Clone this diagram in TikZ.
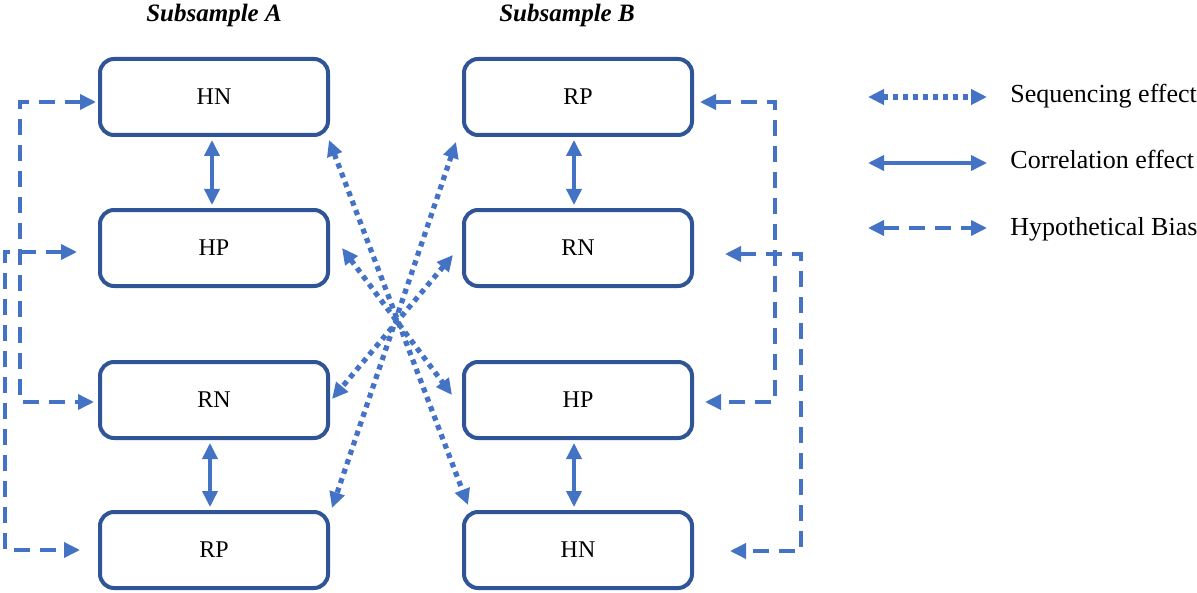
\documentclass[tikz,border=0pt]{standalone}
\usepackage{fontspec}
\setmainfont{Liberation Serif}
\usetikzlibrary{arrows.meta,calc,positioning}
\definecolor{boxblue}{HTML}{2F5597}
\definecolor{arrowblue}{HTML}{4472C4}
\tikzset{
  >={Triangle[length=8pt,width=7.5pt]},
  stage/.style={
    draw=boxblue, line width=2pt, rounded corners=7pt,
    text depth=0pt,
    minimum width=114pt,
    minimum height=38pt,
    font=\fontsize{12}{14}\selectfont
  },
  corr/.style={
    <->, draw=arrowblue, line width=1.8pt,
    shorten <=1.5pt, shorten >=1.5pt
  },
  seq/.style={
    <->, draw=arrowblue, line width=2.6pt,
    dash pattern=on 2.6pt off 2.4pt
  },
  bias/.style={
    <->, draw=arrowblue, line width=1.8pt,
    dash pattern=on 8pt off 5pt
  },
  samplelabel/.style={
    font=\fontsize{12.5}{14}\selectfont\bfseries\itshape
  },
  legendlabel/.style={
    anchor=base west, inner sep=0pt,
    font=\fontsize{13}{15}\selectfont
  }
}
\begin{document}
\begin{tikzpicture}[x=0.5pt,y=-0.5pt]
  \useasboundingbox (0,0) rectangle (1197,593);

  \node[samplelabel] (subA) at (214,15) {Subsample A};
  \node[samplelabel] (subB) at (567,15) {Subsample B};

  % subsample A
  \node[stage] (hnA) at (214,97) {HN};
  \node[stage] (hpA) at (214,248) {HP};
  \node[stage] (rnA) at (214,400) {RN};
  \node[stage] (rpA) at (214,550) {RP};

  % subsample B
  \node[stage] (rpB) at (578,97) {RP};
  \node[stage] (rnB) at (578,248) {RN};
  \node[stage] (hpB) at (578,400) {HP};
  \node[stage] (hnB) at (578,550) {HN};

  % correlation effect
  \draw[corr] ([xshift=-1pt]hnA.south) -- ([xshift=-1pt]hpA.north);
  \draw[corr] ([xshift=-2pt]rnA.south) -- ([xshift=-2pt]rpA.north);
  \draw[corr] ([xshift=-2pt]rpB.south) -- ([xshift=-2pt]rnB.north);
  \draw[corr] ([xshift=-2pt]hpB.south) -- ([xshift=-2pt]hnB.north);

  % sequencing effect
  \draw[seq] ([shift={(-1,3)}]hnA.south east) -- ([shift={(6,-5)}]hnB.north west);
  \draw[seq] ([shift={(-6,5)}]rpB.south west) -- ([shift={(2,-2)}]rpA.north east);
  \draw[seq] ([shift={(12,0)}]hpA.east) -- ([shift={(-10,-5)}]hpB.west);
  \draw[seq] ([shift={(-9,7)}]rnB.west) -- ([shift={(2,-1)}]rnA.east);

  % hypothetical bias
  \draw[bias] ([shift={(-2,5)}]hnA.west) -- ++(-76,0) |- ([shift={(-4,2)}]rnA.west);
  \draw[bias] ([shift={(-21,4)}]hpA.west) -- ++(-72,0) |- ([shift={(-18,0)}]rpA.west);
  \draw[bias] ([shift={(6,5)}]rpB.east) -- ++(75,0) |- ([shift={(11,2)}]hpB.east);
  \draw[bias] ([shift={(31,6)}]rnB.east) -- ++(76,0) |- ([shift={(36,1)}]hnB.east);

  % legend
  \coordinate (seqL) at (868,97);
  \coordinate (seqR) at (987,97);
  \coordinate (corrL) at (868,163);
  \coordinate (corrR) at (987,163);
  \coordinate (biasL) at (868,228);
  \coordinate (biasR) at (987,228);
  \draw[seq] (seqL) -- (seqR);
  \draw[corr,shorten <=0pt,shorten >=0pt] (corrL) -- (corrR);
  \draw[bias] (biasL) -- (biasR);
  \node[legendlabel] (seqtext) at (1010,103) {Sequencing effect};
  \node[legendlabel] (corrtext) at (1010,169) {Correlation effect};
  \node[legendlabel] (biastext) at (1010,235) {Hypothetical Bias};
\end{tikzpicture}
\end{document}
